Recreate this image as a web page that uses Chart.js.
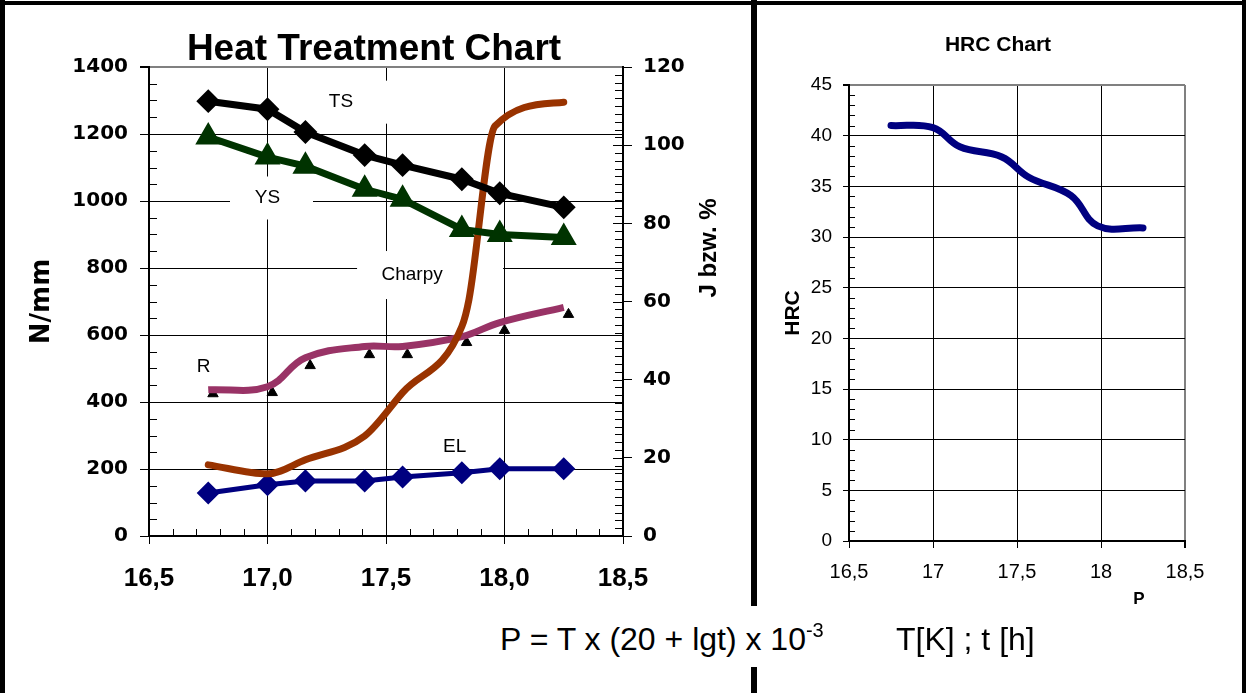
<!DOCTYPE html>
<html>
<head>
<meta charset="utf-8">
<title>Heat Treatment Chart</title>
<script src="https://cdn.jsdelivr.net/npm/chart.js@4.4.0/dist/chart.umd.min.js"></script>
<style>
    html, body { margin: 0; padding: 0; background: #fff; }
    body { width: 1246px; height: 693px; position: relative; overflow: hidden; font-family: Arial, "Liberation Sans", sans-serif; }
    .bar { position: absolute; background: #000; }
    #leftWrap { position: absolute; left: 0; top: 0; width: 750px; height: 600px; }
    #rightWrap { position: absolute; left: 760px; top: 0; width: 486px; height: 620px; }
    .formula { position: absolute; font-size: 32px; line-height: 32px; white-space: nowrap; color: #000; }
    .formula .sup { font-size: 20px; position: relative; top: -13px; }
</style>
</head>
<body>
<div class="bar" style="left:0; top:1px; width:1246px; height:4px;"></div>
<div class="bar" style="left:0; top:0; width:5px; height:693px;"></div>
<div class="bar" style="left:1242px; top:0; width:4px; height:693px;"></div>
<div class="bar" style="left:751px; top:0; width:6px; height:606px;"></div>
<div class="bar" style="left:751px; top:667px; width:6px; height:26px;"></div>

<div id="leftWrap"><canvas id="chart-heat" width="750" height="600"></canvas></div>
<div id="rightWrap"><canvas id="chart-hrc" width="486" height="620"></canvas></div>

<div class="formula" style="left:500px; top:623px;">P = T x (20 + lgt) x 10<span class="sup">-3</span></div>
<div class="formula" style="left:896px; top:623px;">T[K] ; t [h]</div>

<script>
// Parameter P (Hollomon-Jaffe) de cada punto medido
const pValues = [16.75, 17.0, 17.16, 17.41, 17.57, 17.82, 17.98, 18.25];

// Eje izquierdo N/mm
const tsValues = [1298, 1274, 1206, 1137, 1107, 1065, 1023, 981];
const ysValues = [1191, 1131, 1104, 1035, 1005, 915, 900, 891];

// Eje derecho J bzw. %
const charpyP = [16.75, 17.0, 17.16, 17.41, 17.57, 17.82, 17.85, 17.96, 18.25];
const charpyValues = [18.2, 15.9, 19.5, 25.6, 36.7, 53.6, 60.5, 104.9, 111.0];
const rValues = [37.4, 38.2, 45.6, 48.5, 48.5, 51.0, 54.6, 58.5];
const rMeasuredP = [16.77, 17.02, 17.18, 17.43, 17.59, 17.84, 18.0, 18.27];
const rMeasuredValues = [36.4, 36.7, 43.6, 46.4, 46.4, 49.5, 52.6, 56.7];
const elValues = [11.0, 13.1, 14.1, 14.1, 15.1, 16.2, 17.2, 17.2];

// Dureza
const hrcValues = [41.0, 40.8, 38.9, 37.9, 35.9, 34.1, 31.1, 30.9];

// Etiquetas dentro de la grafica (posicion en unidades de datos)
const curveLabels = [
    { text: 'TS', p: 17.31, v: 1295, boxW: 94, boxH: 43, boxDx: 2 },
    { text: 'YS', p: 17.0, v: 1009, boxW: 83, boxH: 43, boxDx: 4 },
    { text: 'Charpy', p: 17.61, v: 779, boxW: 146, boxH: 48, boxDx: 18 },
    { text: 'R', p: 16.73, v: 504, boxW: 36, boxH: 30, boxDx: 0 },
    { text: 'EL', p: 17.79, v: 266, boxW: 44, boxH: 30, boxDx: 0 }
];

function toXY(xs, ys) {
    return xs.map((x, i) => ({ x: x, y: ys[i] }));
}

function commaLabel(v, decimals) {
    const s = decimals === undefined ? String(v) : v.toFixed(decimals);
    return s.replace('.', ',');
}

function drawMinorTicks(ctx, scale, step, majorStep, from, to, vertical) {
    ctx.save();
    ctx.strokeStyle = '#000';
    ctx.lineWidth = 1;
    ctx.beginPath();
    const n = Math.round((scale.max - scale.min) / step);
    for (let i = 1; i < n; i++) {
        const v = scale.min + i * step;
        if (Math.abs(v / majorStep - Math.round(v / majorStep)) < 1e-6) continue;
        const pos = Math.round(scale.getPixelForValue(v)) + 0.5;
        if (vertical) {
            ctx.moveTo(from, pos);
            ctx.lineTo(to, pos);
        } else {
            ctx.moveTo(pos, from);
            ctx.lineTo(pos, to);
        }
    }
    ctx.stroke();
    ctx.restore();
}

function drawRotated(ctx, text, x, y, font) {
    ctx.save();
    ctx.translate(x, y);
    ctx.rotate(-Math.PI / 2);
    ctx.font = font;
    ctx.fillStyle = '#000';
    ctx.textAlign = 'center';
    ctx.textBaseline = 'middle';
    ctx.fillText(text, 0, 0);
    ctx.restore();
}

const heatDecor = {
    id: 'heatDecor',
    beforeDatasetsDraw(chart) {
        const { ctx, scales: { x, y, y2 } } = chart;
        // cajas blancas de las etiquetas (tapan la reticula)
        ctx.save();
        ctx.fillStyle = '#fff';
        curveLabels.forEach(l => {
            const cx = x.getPixelForValue(l.p) + l.boxDx;
            const cy = y.getPixelForValue(l.v);
            ctx.fillRect(cx - l.boxW / 2, cy - l.boxH / 2, l.boxW, l.boxH);
        });
        ctx.restore();

        // marcas secundarias hacia dentro
        drawMinorTicks(ctx, y, 50, 200, y.right, y.right + 8, true);
        drawMinorTicks(ctx, y2, 2, 20, y2.left - 8, y2.left, true);
        drawMinorTicks(ctx, y2, 20, 1000, y2.left - 10, y2.left, true);
        drawMinorTicks(ctx, x, 0.1, 0.5, x.top - 7, x.top, false);
    },
    afterDraw(chart) {
        const { ctx, chartArea, scales: { x, y } } = chart;
        ctx.save();
        ctx.fillStyle = '#000';
        ctx.textAlign = 'center';
        ctx.textBaseline = 'middle';
        ctx.font = '19px Arial, "Liberation Sans", sans-serif';
        curveLabels.forEach(l => {
            ctx.fillText(l.text, x.getPixelForValue(l.p), y.getPixelForValue(l.v));
        });

        ctx.textBaseline = 'alphabetic';
        ctx.font = 'bold 37px Arial, "Liberation Sans", sans-serif';
        ctx.fillText('Heat Treatment Chart', 374, 60);

        ctx.font = '33px Arial, "Liberation Sans", sans-serif';
        ctx.fillText('P', 328, 627);
        ctx.restore();

        drawRotated(ctx, 'N/mm', 42, (chartArea.top + chartArea.bottom) / 2, 'bold 26px "DejaVu Sans", sans-serif');
        drawRotated(ctx, 'J bzw. %', 709, 248, 'bold 24px Arial, "Liberation Sans", sans-serif');
    }
};

const hrcDecor = {
    id: 'hrcDecor',
    beforeDatasetsDraw(chart) {
        const { ctx, scales: { y } } = chart;
        drawMinorTicks(ctx, y, 1, 5, y.right, y.right + 6, true);
    },
    afterDraw(chart) {
        const { ctx, chartArea } = chart;
        ctx.save();
        ctx.fillStyle = '#000';
        ctx.textAlign = 'center';
        ctx.font = 'bold 21px Arial, "Liberation Sans", sans-serif';
        ctx.fillText('HRC Chart', 238, 51);
        ctx.font = 'bold 17px Arial, "Liberation Sans", sans-serif';
        ctx.fillText('P', 379, 604);
        ctx.restore();
        drawRotated(ctx, 'HRC', 33, (chartArea.top + chartArea.bottom) / 2, 'bold 21px Arial, "Liberation Sans", sans-serif');
    }
};

function createHeatChart() {
    const canvas = document.getElementById('chart-heat');
    const tickFontBig = { family: '"DejaVu Sans", sans-serif', size: 20, weight: 'bold' };

    return new Chart(canvas, {
        type: 'line',
        data: {
            datasets: [
                {
                    label: 'TS',
                    data: toXY(pValues, tsValues),
                    yAxisID: 'y',
                    borderColor: '#000000',
                    backgroundColor: '#000000',
                    borderWidth: 7,
                    pointStyle: 'rectRot',
                    pointRadius: 7,
                    tension: 0
                },
                {
                    label: 'YS',
                    data: toXY(pValues, ysValues),
                    yAxisID: 'y',
                    borderColor: '#003300',
                    backgroundColor: '#003300',
                    borderWidth: 7,
                    pointStyle: 'triangle',
                    pointRadius: 8,
                    tension: 0
                },
                {
                    label: 'Charpy',
                    data: toXY(charpyP, charpyValues),
                    yAxisID: 'y2',
                    borderColor: '#993300',
                    borderWidth: 7,
                    borderCapStyle: 'round',
                    pointRadius: 0,
                    cubicInterpolationMode: 'monotone'
                },
                {
                    label: 'R',
                    data: toXY(pValues, rValues),
                    yAxisID: 'y2',
                    borderColor: '#993366',
                    borderWidth: 7,
                    pointRadius: 0,
                    tension: 0.4
                },
                {
                    label: 'R (Messwerte)',
                    data: toXY(rMeasuredP, rMeasuredValues),
                    yAxisID: 'y2',
                    showLine: false,
                    backgroundColor: '#000000',
                    borderColor: '#000000',
                    pointStyle: 'triangle',
                    pointRadius: 6
                },
                {
                    label: 'EL',
                    data: toXY(pValues, elValues),
                    yAxisID: 'y2',
                    borderColor: '#000080',
                    backgroundColor: '#000080',
                    borderWidth: 5,
                    pointStyle: 'rectRot',
                    pointRadius: 8,
                    tension: 0
                }
            ]
        },
        options: {
            responsive: false,
            animation: false,
            devicePixelRatio: 1,
            layout: { padding: { top: 67, left: 0, right: 0, bottom: 0 } },
            plugins: { legend: { display: false }, tooltip: { enabled: false } },
            scales: {
                x: {
                    type: 'linear',
                    min: 16.5,
                    max: 18.5,
                    ticks: {
                        stepSize: 0.5,
                        callback: v => commaLabel(v, 1),
                        font: { family: 'Arial, "Liberation Sans", sans-serif', size: 26, weight: 'bold' },
                        color: '#000',
                        padding: 19,
                        maxRotation: 0
                    },
                    grid: { color: '#000', lineWidth: 1, tickLength: 8, tickColor: '#000' },
                    border: { color: '#000', width: 2 },
                    afterFit(s) { s.height = 64; }
                },
                y: {
                    position: 'left',
                    min: 0,
                    max: 1400,
                    ticks: { stepSize: 200, callback: v => String(v), font: tickFontBig, color: '#000', padding: 12 },
                    grid: {
                        color: c => (c.tick && c.tick.value === 1400 ? '#808080' : '#000'),
                        lineWidth: c => (c.tick && c.tick.value === 1400 ? 2 : 1),
                        tickLength: 9,
                        tickColor: '#000'
                    },
                    border: { color: '#000', width: 2 },
                    afterFit(s) { s.width = 149; }
                },
                y2: {
                    position: 'right',
                    min: 0,
                    max: 120,
                    ticks: { stepSize: 20, callback: v => String(v), font: tickFontBig, color: '#000', padding: 11 },
                    grid: { drawOnChartArea: false, tickLength: 9, color: '#000' },
                    border: { color: '#000', width: 2 },
                    afterFit(s) { s.width = 127; }
                }
            }
        },
        plugins: [heatDecor]
    });
}

function createHrcChart() {
    const canvas = document.getElementById('chart-hrc');

    return new Chart(canvas, {
        type: 'line',
        data: {
            datasets: [
                {
                    label: 'HRC',
                    data: toXY(pValues, hrcValues),
                    borderColor: '#000080',
                    borderWidth: 7,
                    borderCapStyle: 'round',
                    pointRadius: 0,
                    tension: 0.4
                }
            ]
        },
        options: {
            responsive: false,
            animation: false,
            devicePixelRatio: 1,
            layout: { padding: { top: 85, left: 0, right: 61, bottom: 0 } },
            plugins: { legend: { display: false }, tooltip: { enabled: false } },
            scales: {
                x: {
                    type: 'linear',
                    min: 16.5,
                    max: 18.5,
                    ticks: {
                        stepSize: 0.5,
                        callback: v => commaLabel(v),
                        font: { family: 'Arial, "Liberation Sans", sans-serif', size: 20 },
                        color: '#000',
                        padding: 12,
                        maxRotation: 0
                    },
                    grid: {
                        color: c => (c.tick && c.tick.value === 18.5 ? '#808080' : '#000'),
                        lineWidth: c => (c.tick && c.tick.value === 18.5 ? 2 : 1),
                        tickLength: 7,
                        tickColor: '#000'
                    },
                    border: { color: '#000', width: 2 },
                    afterFit(s) { s.height = 79; }
                },
                y: {
                    min: 0,
                    max: 45,
                    ticks: { stepSize: 5, font: { family: 'Arial, "Liberation Sans", sans-serif', size: 19 }, color: '#000', padding: 11 },
                    grid: {
                        color: c => (c.tick && c.tick.value === 45 ? '#808080' : '#000'),
                        lineWidth: c => (c.tick && c.tick.value === 45 ? 2 : 1),
                        tickLength: 6,
                        tickColor: '#000'
                    },
                    border: { color: '#000', width: 2 },
                    afterFit(s) { s.width = 89; }
                }
            }
        },
        plugins: [hrcDecor]
    });
}

createHeatChart();
createHrcChart();
</script>
</body>
</html>
